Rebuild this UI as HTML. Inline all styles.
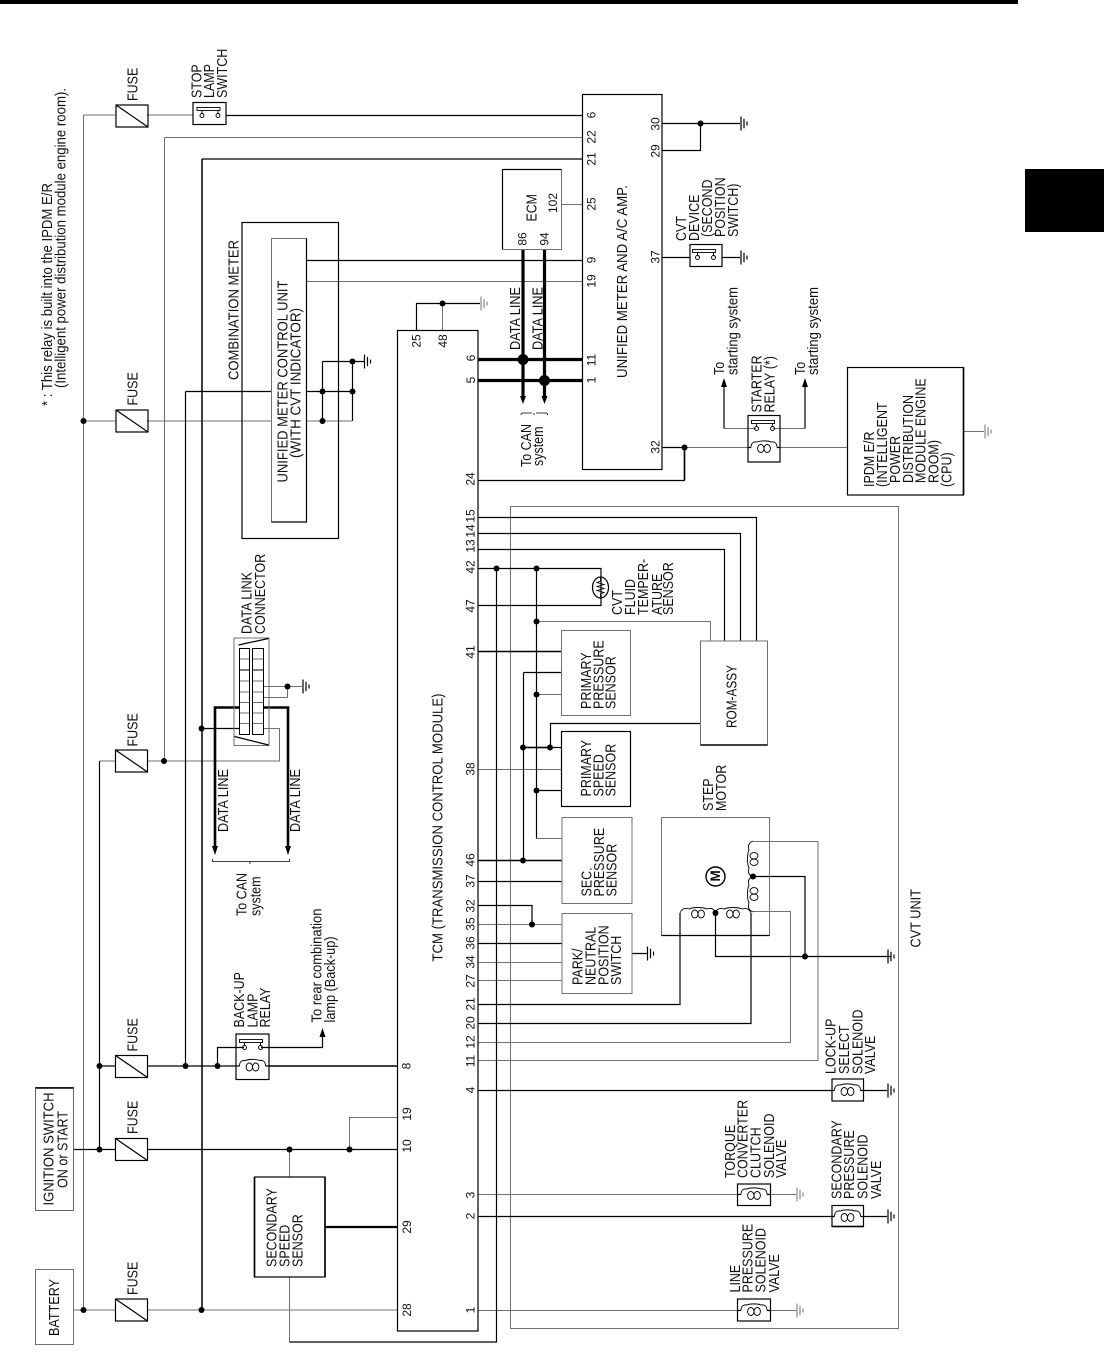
<!DOCTYPE html>
<html><head><meta charset="utf-8"><style>
html,body{margin:0;padding:0;background:#fff}
svg{display:block}
text{font-family:"Liberation Sans","DejaVu Sans",sans-serif;font-size:14.5px;fill:#111}
.n{text-anchor:middle;font-size:12px}
path,polyline,line,rect,ellipse{fill:none}
.k{stroke:#000;stroke-width:1.2}
.g{stroke:#707070;stroke-width:1}
.t{stroke:#000;stroke-width:3.2}
.t2{stroke:#000;stroke-width:2.6}
.m{stroke:#000;stroke-width:1.6}
.d{fill:#000;stroke:none}
.o{fill:none}
</style></head><body>
<svg xmlns="http://www.w3.org/2000/svg" width="1104" height="1365" viewBox="0 0 1104 1365">
<defs>
<g id="fuse"><rect width="32" height="22"/><path d="M0 0L32 22"/></g>
<g id="gnd"><path d="M0-7V7M3-4.7V4.7M6-2V2"/></g>
<g id="coil"><path d="M-13 0C-13-5-10-6-7-5.5C-4-7 4-7 7-5.5C10-6 13-5 13 0"/><ellipse cx="-3.2" cy="1" rx="3.2" ry="4"/><ellipse cx="3.2" cy="1" rx="3.2" ry="4"/></g>
<g id="sw"><rect x="3" y="-8" width="23" height="3"/><path d="M8-5V-2M24-5V-2"/><circle class="o" cx="8" cy="0" r="2"/><circle class="o" cx="24" cy="0" r="2"/></g>
</defs>
<rect x="0" y="0" width="1018" height="4" style="fill:#000"/>
<rect x="1025" y="169" width="79" height="63" style="fill:#000"/>

<!-- gray wires -->
<path class="g" d="M83.5 115V1310M83.5 115H116M73 1310H116M147 1310H397M83.5 421H116M147 421H271M306 421H352M164.5 137.5H582M164.5 137.5V761M99.5 761H116M147 761H279.5V728.5H264M306.5 281.5H582M561 204.5H582M442.5 303.5V330M289.5 1177V1149.5M289.5 1277V1342M147 115H193M349.5 1149.5V1117.5H397M510.5 506.5H898.5V1328.5H510.5ZM478 769.5H562M478 1042.5H790.5V911.5H753M478 1060.5H818V841.5H753M478 1194.5H737M770 1194.5H796M478 1310.5H737M770 1310.5H796M536.5 621.5H710.5V641M536.5 694.5H562M478 962.5H562M478 980.5H562M478 924.5H562M662 447.5H748M780 447.5H847M963 431.5H984M264 686.5H302M264 697.5H287.5V686.5M756 428.5H724M773 428.5H805M536.5 838.5H562"/>
<!-- black wires -->
<path class="k" d="M226 115.5H582M662 123.5H740M662 150.5H700.5V123.5M662 257.5H690M722 257.5H740M73 1149.5H116M147 1149.5H397M99.5 761V1149.5M478 517.5H756.5V641M478 533.5H740.5V641M478 549.5H724.5V641M478 568.5H601V605.5H478M536.5 568.5V838.5M523.5 672.5H562M523.5 672.5V860M550.5 747.5V723.5H700M523.5 747.5H562M536.5 790.5H562M478 881.5H562M478 905.5H532V924.5M478 943.5H562M632 953.5H647M478 1004.5H680V913M478 1023.5H751V913M753 876.5H805V956.5M715.5 913V956.5H891M478 1090.5H832M863 1090.5H887M478 1216.5H832M863 1216.5H887M416.5 330V303.5H480M322.5 361.5V421M352.5 361.5V421M322.5 361.5H364M306 391.5H352M185.5 391.5H271M306 260.5H582M99.5 1066H116M147 1066H236M217.5 1066V1047.5H244M261 1047.5H322.5V1034M724 428.5V385M805 428.5V385M478 480.5H684.5V447.5M662 447.5H684M201.5 728.5H239M289.5 1342H496.5V568M202 159H582M185.5 391.5V1066M236 1066H239.5M265.5 1066H269M748 447.5H751M777 447.5H780M832 1090.5H834.5M860.5 1090.5H863M832 1216.5H834.5M860.5 1216.5H863M737.5 1194.5H741M767 1194.5H770.5M737.5 1310.5H741M767 1310.5H770.5"/>
<path class="k" style="stroke-width:1.5" d="M202 159V1310"/>
<path class="m" d="M269 1066H397M478 651.5H562M478 860.5H562M523 747.5H550M684.5 447.5V480"/>
<path class="k" style="stroke-width:2.2" d="M325 1227H397"/>
<!-- thick -->
<path class="t" d="M478 359.5H582M478 380.5H582M523 249V397M544.5 249V397"/>
<path class="t2" d="M239 707.5H215V848M264 707.5H288V848"/>

<!-- boxes -->
<rect x="582.5" y="94.5" width="79.5" height="375" style="stroke:#000;stroke-width:1.2"/>
<rect class="g" x="502.5" y="169.5" width="59" height="80"/><path class="k" d="M502.5 169.5H561.5M502.5 169.5V249"/>
<rect class="k" x="242" y="222.5" width="96.5" height="316"/>
<rect class="g" x="271.5" y="238.5" width="35" height="283.5"/><path class="k" d="M306.5 238.5V522H271.5"/>
<rect class="k" x="397.5" y="330.5" width="80.5" height="1000.5"/>
<rect class="k" x="254.5" y="1177" width="70.5" height="100"/><path class="m" d="M254.5 1177V1277M325 1177V1277"/>
<rect class="k" x="847.5" y="367.5" width="116" height="127.5"/><path class="m" d="M963.5 367.5V495"/>
<rect x="35.5" y="1087.5" width="38" height="123" style="stroke:#666;stroke-width:1"/><path class="m" d="M35.5 1088H73.5"/>
<rect class="g" x="35.5" y="1269.5" width="38" height="75"/>
<rect class="g" x="561.5" y="630.5" width="69" height="85"/>
<rect class="k" x="561.5" y="731.5" width="69" height="75"/>
<rect class="g" x="562" y="817.5" width="70" height="86"/>
<rect class="g" x="562" y="913.5" width="70" height="80"/>
<rect class="g" x="700.5" y="641" width="67" height="104"/><path class="m" d="M700.5 745H767.5"/>
<rect class="g" x="661.5" y="817.5" width="108" height="118"/><path class="k" d="M661.5 935.5H769.5"/>

<!-- fuses -->
<g class="k">
<use href="#fuse" x="116" y="105"/><use href="#fuse" x="116" y="410"/><use href="#fuse" x="115.5" y="750"/>
<use href="#fuse" x="115.5" y="1055.5"/><use href="#fuse" x="115.5" y="1138.5"/><use href="#fuse" x="115.5" y="1299"/>
</g>
<!-- switches -->
<rect class="k" x="193" y="102.5" width="33" height="22"/><use class="k" style="stroke-width:.9" href="#sw" x="194" y="115.5"/>
<rect class="k" x="690" y="244.5" width="32" height="22"/><use class="k" style="stroke-width:.9" href="#sw" x="689.5" y="257.5"/>
<rect class="k" x="748" y="415.5" width="32" height="46.5"/><use class="k" style="stroke-width:.9" href="#sw" x="748.5" y="428.5"/><use class="k" style="stroke-width:.9" href="#coil" x="764" y="447.5"/>
<rect class="k" x="236" y="1034" width="33" height="45.5"/><use class="k" style="stroke-width:.9" href="#sw" x="236.5" y="1047.5"/><use class="k" style="stroke-width:.9" href="#coil" x="252.5" y="1066"/>
<!-- solenoids -->
<rect class="k" x="832" y="1079" width="31.5" height="22"/><use class="k" style="stroke-width:.9" href="#coil" x="847.5" y="1090.5"/>
<rect class="k" x="737.5" y="1184" width="33" height="21.5"/><use class="k" style="stroke-width:.9" href="#coil" x="754" y="1194.5"/>
<rect class="k" x="832" y="1205.5" width="31.5" height="21"/><path class="m" d="M832 1226.5H863.5"/><use class="k" style="stroke-width:.9" href="#coil" x="847.5" y="1216.5"/>
<rect class="k" x="737.5" y="1299" width="33" height="22"/><use class="k" style="stroke-width:.9" href="#coil" x="754" y="1310.5"/>
<!-- step motor coils -->
<g class="k" style="stroke-width:.9" transform="translate(698 913)"><path d="M-18 0C-16-5-12-5-9-4C-5-6 5-6 9-4C12-5 16-5 18 0"/><ellipse cx="-3.2" cy="1" rx="3.2" ry="4"/><ellipse cx="3.2" cy="1" rx="3.2" ry="4"/></g>
<g class="k" style="stroke-width:.9" transform="translate(733 913)"><path d="M-18 0C-16-5-12-5-9-4C-5-6 5-6 9-4C12-5 16-5 18 0"/><ellipse cx="-3.2" cy="1" rx="3.2" ry="4"/><ellipse cx="3.2" cy="1" rx="3.2" ry="4"/></g>
<g class="k" style="stroke-width:.9" transform="translate(753 859) rotate(90)"><path d="M-18 0C-16 5-12 5-9 4C-5 6 5 6 9 4C12 5 16 5 18 0"/><ellipse cx="-3.2" cy="-1" rx="3.2" ry="4"/><ellipse cx="3.2" cy="-1" rx="3.2" ry="4"/></g>
<g class="k" style="stroke-width:.9" transform="translate(753 894) rotate(90)"><path d="M-18 0C-16 5-12 5-9 4C-5 6 5 6 9 4C12 5 16 5 18 0"/><ellipse cx="-3.2" cy="-1" rx="3.2" ry="4"/><ellipse cx="3.2" cy="-1" rx="3.2" ry="4"/></g>
<circle class="k" cx="715.5" cy="876.5" r="9.5" style="fill:none;stroke-width:1.4"/>
<!-- temp sensor -->
<ellipse class="k" cx="600.5" cy="587.5" rx="8" ry="10.5"/>
<path class="k" style="stroke-width:.9" d="M600.5 578V581L597 582.5L604 584.5L597 586.5L604 588.5L597 590.5L604 592.5L600.5 594V597"/>

<!-- DLC -->
<rect class="g" x="234" y="638" width="35" height="107.5"/>
<path class="k" d="M238.5 645L268.5 638.5M234.5 736.5L268.5 745"/>
<path class="g" d="M239.5 659H249.5M252.5 659H263.5M239.5 681H249.5M252.5 681H263.5M239.5 692H249.5M252.5 692H263.5M239.5 702.5H249.5M252.5 702.5H263.5M239.5 713H249.5M252.5 713H263.5M239.5 723.5H249.5M252.5 723.5H263.5"/>
<path class="k" style="stroke-width:1" d="M239.5 648.5H249.5V734.5H239.5ZM252.5 648.5H263.5V734.5H252.5ZM239.5 670H249.5M252.5 670H263.5"/>
<!-- brace -->
<path class="k" d="M212.5 859V861.5H289.5V859M250 861.5V864" style="stroke-width:.8"/>
<path class="k" d="M521 415C521 413 522 413 523 413H532M536 413H547M547.5 415C547.5 413 547 413 546 413M534 413V415" style="stroke-width:.8"/>
<!-- grounds -->
<g class="k">
<use href="#gnd" x="741" y="123.5"/><use href="#gnd" x="741" y="257.5"/><use href="#gnd" x="647.5" y="953.5"/>
<use href="#gnd" x="888" y="956.5"/><use href="#gnd" x="888" y="1090.5"/><use href="#gnd" x="888" y="1216.5"/>
<use href="#gnd" x="364.5" y="361.5"/><use href="#gnd" x="303" y="686.5"/>
</g>
<g class="g">
<use href="#gnd" x="481" y="303.5"/><use href="#gnd" x="985" y="431.5"/><use href="#gnd" x="797" y="1194.5"/><use href="#gnd" x="797" y="1310.5"/>
</g>
<!-- dots -->
<g class="d">
<circle cx="83.5" cy="421" r="3"/><circle cx="83.5" cy="1310" r="3"/><circle cx="442.5" cy="303.5" r="3"/><circle cx="352.5" cy="361.5" r="3"/><circle cx="322.5" cy="391.5" r="3"/><circle cx="352.5" cy="391.5" r="3"/><circle cx="322.5" cy="421" r="3"/><circle cx="700.5" cy="123.5" r="3"/><circle cx="684.5" cy="447.5" r="3"/>
<circle cx="523" cy="359.5" r="5.5"/><circle cx="544.5" cy="380.5" r="5.5"/>
<circle cx="496.5" cy="568.5" r="3"/><circle cx="536.5" cy="568.5" r="3"/><circle cx="536.5" cy="621.5" r="3"/><circle cx="536.5" cy="694.5" r="3"/><circle cx="536.5" cy="790.5" r="3"/><circle cx="523" cy="747.5" r="3"/><circle cx="550" cy="747.5" r="3"/><circle cx="523" cy="860.5" r="3"/><circle cx="532" cy="924.5" r="3"/><circle cx="715.5" cy="913" r="3"/><circle cx="753" cy="876.5" r="3"/><circle cx="805" cy="956.5" r="3"/>
<circle cx="164" cy="761" r="3"/><circle cx="201.5" cy="728.5" r="3"/><circle cx="287.5" cy="686.5" r="3"/><circle cx="99.5" cy="1066" r="3"/><circle cx="185.5" cy="1066" r="3"/><circle cx="217.5" cy="1066" r="3"/><circle cx="99.5" cy="1149.5" r="3"/><circle cx="289.5" cy="1149.5" r="3"/><circle cx="349.5" cy="1149.5" r="3"/><circle cx="201.5" cy="1310" r="3"/>
<!-- arrowheads -->
<path style="fill:#000" d="M724 378L721 387H727ZM805 378L802 387H808ZM322.5 1028L319.5 1037H325.5ZM523 404L520 396H526ZM544.5 404L541.5 396H547.5ZM215 855L212 846H218ZM288 855L285 846H291Z"/>
</g>

<!-- labels -->
<text transform="matrix(0 -1 1 0 52 406)" textLength="223" lengthAdjust="spacingAndGlyphs">* : This relay is built into the IPDM E/R</text>
<text transform="matrix(0 -1 1 0 65.5 388)" textLength="300" lengthAdjust="spacingAndGlyphs">(Intelligent power distribution module engine room).</text>

<text transform="matrix(0 -.862 1 0 137.5 101)">FUSE</text>
<text transform="matrix(0 -.862 1 0 137.5 405.5)">FUSE</text>
<text transform="matrix(0 -.862 1 0 137.5 746.5)">FUSE</text>
<text transform="matrix(0 -.862 1 0 137.5 1051.5)">FUSE</text>
<text transform="matrix(0 -.862 1 0 137.5 1134)">FUSE</text>
<text transform="matrix(0 -.862 1 0 137.5 1295)">FUSE</text>

<text transform="matrix(0 -.862 1 0 201.5 98)">STOP</text>
<text transform="matrix(0 -.862 1 0 214 98)">LAMP</text>
<text transform="matrix(0 -.862 1 0 227 98)">SWITCH</text>

<text transform="matrix(0 -1 1 0 238.5 380)" textLength="140" lengthAdjust="spacingAndGlyphs">COMBINATION METER</text>
<text transform="matrix(0 -1 1 0 287.5 482.5)" textLength="202" lengthAdjust="spacingAndGlyphs">UNIFIED METER CONTROL UNIT</text>
<text transform="matrix(0 -1 1 0 300.5 458)" textLength="150" lengthAdjust="spacingAndGlyphs">(WITH CVT INDICATOR)</text>

<text transform="matrix(0 -1 1 0 536.5 221.5)" textLength="27.5" lengthAdjust="spacingAndGlyphs">ECM</text>
<text class="n" transform="matrix(0 -1 1 0 557 203)">102</text>
<text class="n" transform="matrix(0 -1 1 0 526.5 239)">86</text>
<text class="n" transform="matrix(0 -1 1 0 548.5 239)">94</text>
<text transform="matrix(0 -1 1 0 520 350)" textLength="63" lengthAdjust="spacingAndGlyphs">DATA LINE</text>
<text transform="matrix(0 -1 1 0 542.5 350)" textLength="63" lengthAdjust="spacingAndGlyphs">DATA LINE</text>
<text transform="matrix(0 -.862 1 0 531 467)">To CAN</text>
<text transform="matrix(0 -.862 1 0 543 466)">system</text>

<text transform="matrix(0 -1 1 0 627 378)" textLength="193" lengthAdjust="spacingAndGlyphs">UNIFIED METER AND A/C AMP.</text>
<g>
<text class="n" transform="matrix(0 -1 1 0 595.5 115)">6</text>
<text class="n" transform="matrix(0 -1 1 0 595.5 137)">22</text>
<text class="n" transform="matrix(0 -1 1 0 595.5 159)">21</text>
<text class="n" transform="matrix(0 -1 1 0 595.5 204)">25</text>
<text class="n" transform="matrix(0 -1 1 0 595.5 260)">9</text>
<text class="n" transform="matrix(0 -1 1 0 595.5 281)">19</text>
<text class="n" transform="matrix(0 -1 1 0 595.5 360)">11</text>
<text class="n" transform="matrix(0 -1 1 0 595.5 380)">1</text>
<text class="n" transform="matrix(0 -1 1 0 659.5 124)">30</text>
<text class="n" transform="matrix(0 -1 1 0 659.5 151)">29</text>
<text class="n" transform="matrix(0 -1 1 0 659.5 257)">37</text>
<text class="n" transform="matrix(0 -1 1 0 659.5 447)">32</text>

<text class="n" transform="matrix(0 -1 1 0 420.5 341)">25</text>
<text class="n" transform="matrix(0 -1 1 0 447 341)">48</text>
<text class="n" transform="matrix(0 -1 1 0 475 358)">6</text>
<text class="n" transform="matrix(0 -1 1 0 475 380)">5</text>
<text class="n" transform="matrix(0 -1 1 0 474.5 479)">24</text>
<text class="n" transform="matrix(0 -1 1 0 474.5 516)">15</text>
<text class="n" transform="matrix(0 -1 1 0 474.5 531)">14</text>
<text class="n" transform="matrix(0 -1 1 0 474.5 546)">13</text>
<text class="n" transform="matrix(0 -1 1 0 474.5 567)">42</text>
<text class="n" transform="matrix(0 -1 1 0 474.5 606)">47</text>
<text class="n" transform="matrix(0 -1 1 0 474.5 652)">41</text>
<text class="n" transform="matrix(0 -1 1 0 474.5 769)">38</text>
<text class="n" transform="matrix(0 -1 1 0 474.5 860)">46</text>
<text class="n" transform="matrix(0 -1 1 0 474.5 881)">37</text>
<text class="n" transform="matrix(0 -1 1 0 474.5 906)">32</text>
<text class="n" transform="matrix(0 -1 1 0 474.5 924)">35</text>
<text class="n" transform="matrix(0 -1 1 0 474.5 943)">36</text>
<text class="n" transform="matrix(0 -1 1 0 474.5 962)">34</text>
<text class="n" transform="matrix(0 -1 1 0 474.5 981)">27</text>
<text class="n" transform="matrix(0 -1 1 0 474.5 1004)">21</text>
<text class="n" transform="matrix(0 -1 1 0 474.5 1023)">20</text>
<text class="n" transform="matrix(0 -1 1 0 474.5 1042)">12</text>
<text class="n" transform="matrix(0 -1 1 0 474.5 1061)">11</text>
<text class="n" transform="matrix(0 -1 1 0 474.5 1090)">4</text>
<text class="n" transform="matrix(0 -1 1 0 474.5 1195)">3</text>
<text class="n" transform="matrix(0 -1 1 0 474.5 1216)">2</text>
<text class="n" transform="matrix(0 -1 1 0 474.5 1310)">1</text>

<text class="n" transform="matrix(0 -1 1 0 410.5 1066)">8</text>
<text class="n" transform="matrix(0 -1 1 0 411 1114)">19</text>
<text class="n" transform="matrix(0 -1 1 0 411 1146)">10</text>
<text class="n" transform="matrix(0 -1 1 0 411 1227)">29</text>
<text class="n" transform="matrix(0 -1 1 0 411 1310)">28</text>
</g>

<text transform="matrix(0 -1 1 0 442.5 961.5)" textLength="268" lengthAdjust="spacingAndGlyphs">TCM (TRANSMISSION CONTROL MODULE)</text>

<text transform="matrix(0 -.862 1 0 686 241)">CVT</text>
<text transform="matrix(0 -.862 1 0 699 241)">DEVICE</text>
<text transform="matrix(0 -.862 1 0 712 237)">(SECOND</text>
<text transform="matrix(0 -.862 1 0 725 237)">POSITION</text>
<text transform="matrix(0 -.862 1 0 738 237)">SWITCH)</text>

<text transform="matrix(0 -.862 1 0 724 375)">To</text>
<text transform="matrix(0 -1 1 0 737.5 375)" textLength="88" lengthAdjust="spacingAndGlyphs">starting system</text>
<text transform="matrix(0 -.862 1 0 805 375)">To</text>
<text transform="matrix(0 -1 1 0 818 375)" textLength="88" lengthAdjust="spacingAndGlyphs">starting system</text>
<text transform="matrix(0 -.862 1 0 761.5 412.5)">STARTER</text>
<text transform="matrix(0 -.862 1 0 774.5 412.5)">RELAY (*)</text>

<text transform="matrix(0 -.862 1 0 874 487)">IPDM E/R</text>
<text transform="matrix(0 -.862 1 0 887 487)">(INTELLIGENT</text>
<text transform="matrix(0 -.862 1 0 900 483)">POWER</text>
<text transform="matrix(0 -.862 1 0 913 483)">DISTRIBUTION</text>
<text transform="matrix(0 -.862 1 0 925.5 483)">MODULE ENGINE</text>
<text transform="matrix(0 -.862 1 0 938.5 483)">ROOM)</text>
<text transform="matrix(0 -.862 1 0 951.5 487)">(CPU)</text>

<text transform="matrix(0 -.862 1 0 251.5 634)">DATA LINK</text>
<text transform="matrix(0 -.862 1 0 265 634)">CONNECTOR</text>
<text transform="matrix(0 -1 1 0 228 832)" textLength="63" lengthAdjust="spacingAndGlyphs">DATA LINE</text>
<text transform="matrix(0 -1 1 0 300 832)" textLength="63" lengthAdjust="spacingAndGlyphs">DATA LINE</text>
<text transform="matrix(0 -.862 1 0 246.5 916)">To CAN</text>
<text transform="matrix(0 -.862 1 0 260.5 916)">system</text>

<text transform="matrix(0 -.862 1 0 244 1027.5)">BACK-UP</text>
<text transform="matrix(0 -.862 1 0 257.5 1027.5)">LAMP</text>
<text transform="matrix(0 -.862 1 0 270 1027.5)">RELAY</text>
<text transform="matrix(0 -1 1 0 321.5 1022.5)" textLength="114" lengthAdjust="spacingAndGlyphs">To rear combination</text>
<text transform="matrix(0 -1 1 0 335 1022.5)" textLength="86" lengthAdjust="spacingAndGlyphs">lamp (Back-up)</text>

<text transform="matrix(0 -1 1 0 53.5 1205.5)" textLength="113" lengthAdjust="spacingAndGlyphs">IGNITION SWITCH</text>
<text transform="matrix(0 -1 1 0 67.5 1188)" textLength="77" lengthAdjust="spacingAndGlyphs">ON or START</text>
<text transform="matrix(0 -1 1 0 59 1336)" textLength="57" lengthAdjust="spacingAndGlyphs">BATTERY</text>
<text transform="matrix(0 -.862 1 0 276.5 1267)">SECONDARY</text>
<text transform="matrix(0 -.862 1 0 289.5 1267)">SPEED</text>
<text transform="matrix(0 -.862 1 0 302.5 1267)">SENSOR</text>

<text transform="matrix(0 -.862 1 0 622 615)">CVT</text>
<text transform="matrix(0 -.862 1 0 635 615)">FLUID</text>
<text transform="matrix(0 -.862 1 0 648 615)">TEMPER-</text>
<text transform="matrix(0 -.862 1 0 662 615)">ATURE</text>
<text transform="matrix(0 -.862 1 0 673 615)">SENSOR</text>

<text transform="matrix(0 -.862 1 0 591 709)">PRIMARY</text>
<text transform="matrix(0 -.862 1 0 603.5 709)">PRESSURE</text>
<text transform="matrix(0 -.862 1 0 615.5 709)">SENSOR</text>
<text transform="matrix(0 -.862 1 0 591 796.5)">PRIMARY</text>
<text transform="matrix(0 -.862 1 0 603.5 796.5)">SPEED</text>
<text transform="matrix(0 -.862 1 0 615.5 796.5)">SENSOR</text>
<text transform="matrix(0 -.862 1 0 591.5 896.5)">SEC.</text>
<text transform="matrix(0 -.862 1 0 604 896.5)">PRESSURE</text>
<text transform="matrix(0 -.862 1 0 616.5 896.5)">SENSOR</text>
<text transform="matrix(0 -.862 1 0 582.5 985)">PARK/</text>
<text transform="matrix(0 -.862 1 0 595.5 985)">NEUTRAL</text>
<text transform="matrix(0 -.862 1 0 608.5 985)">POSITION</text>
<text transform="matrix(0 -.862 1 0 621 985)">SWITCH</text>
<text transform="matrix(0 -1 1 0 736.5 728)" textLength="63" lengthAdjust="spacingAndGlyphs">ROM-ASSY</text>
<text transform="matrix(0 -.862 1 0 713 811)">STEP</text>
<text transform="matrix(0 -.862 1 0 726 811)">MOTOR</text>
<text transform="matrix(0 -1 1 0 720 881.5)" style="font-size:13.5px;font-weight:bold">M</text>
<text transform="matrix(0 -1 1 0 920.5 947.5)" textLength="58.5" lengthAdjust="spacingAndGlyphs">CVT UNIT</text>

<text transform="matrix(0 -.862 1 0 835.5 1074)">LOCK-UP</text>
<text transform="matrix(0 -.862 1 0 849 1074)">SELECT</text>
<text transform="matrix(0 -.862 1 0 862.5 1074)">SOLENOID</text>
<text transform="matrix(0 -.862 1 0 875 1074)">VALVE</text>

<text transform="matrix(0 -.862 1 0 735 1178)">TORQUE</text>
<text transform="matrix(0 -.862 1 0 747.5 1178)">CONVERTER</text>
<text transform="matrix(0 -.862 1 0 760.5 1178)">CLUTCH</text>
<text transform="matrix(0 -.862 1 0 774 1178)">SOLENOID</text>
<text transform="matrix(0 -.862 1 0 786 1178)">VALVE</text>

<text transform="matrix(0 -.862 1 0 841.5 1199)">SECONDARY</text>
<text transform="matrix(0 -.862 1 0 854 1199)">PRESSURE</text>
<text transform="matrix(0 -.862 1 0 867.5 1199)">SOLENOID</text>
<text transform="matrix(0 -.862 1 0 881 1199)">VALVE</text>

<text transform="matrix(0 -.862 1 0 740 1292.5)">LINE</text>
<text transform="matrix(0 -.862 1 0 752.5 1292.5)">PRESSURE</text>
<text transform="matrix(0 -.862 1 0 765.5 1292.5)">SOLENOID</text>
<text transform="matrix(0 -.862 1 0 779 1292.5)">VALVE</text>
</svg>
</body></html>
